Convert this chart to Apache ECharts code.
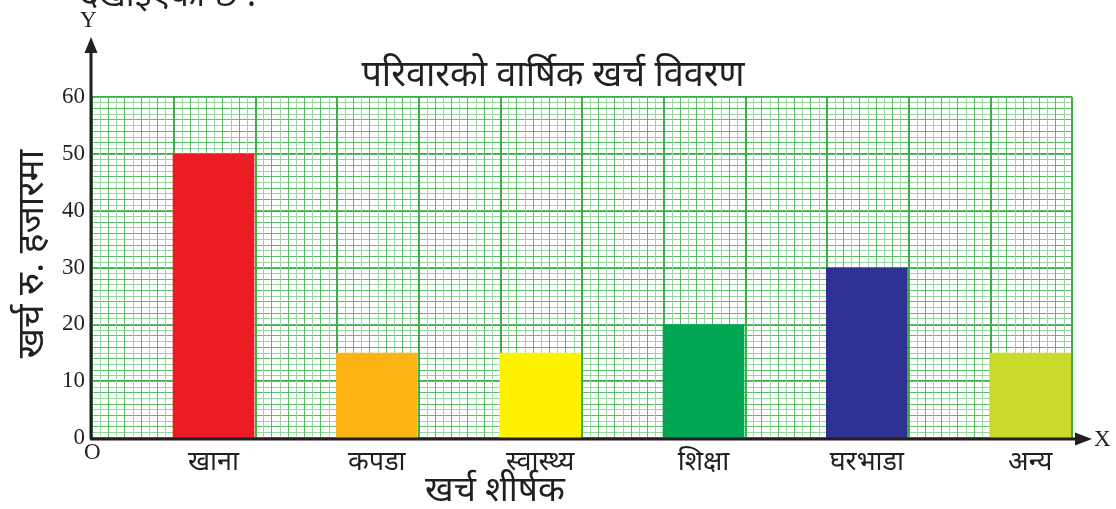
<!DOCTYPE html>
<html>
<head>
<meta charset="utf-8">
<script src="https://cdn.jsdelivr.net/npm/echarts@6/dist/echarts.min.js"></script>
<style>
  html, body { margin: 0; padding: 0; background: #ffffff; }
  #chart { width: 1116px; height: 509px; }
</style>
</head>
<body>
<div id="chart"></div>
<script>
// Annual household spending, in thousands of rupees
const categories = ['खाना', 'कपडा', 'स्वास्थ्य', 'शिक्षा', 'घरभाडा', 'अन्य'];
const spending = [50, 15, 15, 20, 30, 15];
const barColors = ['#ED1C24', '#FBB316', '#FFF200', '#00A651', '#2E3192', '#C9DA2B'];
const yTicks = [0, 10, 20, 30, 40, 50, 60];

const devaFont = '"Noto Sans Devanagari", "Lohit Devanagari", "Noto Sans", sans-serif';
const serifFont = '"Liberation Serif", "DejaVu Serif", serif';
const ink = '#231F20';

// graph-paper ruling colours
const rulingMajor = '#3DAE4A';
const rulingMid = '#5DBE68';
const rulingFine = '#98D7A1';

const chart = echarts.init(document.getElementById('chart'), null, { renderer: 'canvas' });

// plot frame shared by the graph-paper grid and the bars
const plotTop = 97, plotBottom = 71, plotLeft = 92, plotRight = 44;
const band = (1116 - plotLeft - plotRight) / categories.length;

const hidden = { axisLabel: { show: false }, axisTick: { show: false }, axisLine: { show: false } };

const option = {
  animation: false,
  backgroundColor: '#ffffff',
  title: {
    text: 'परिवारको वार्षिक खर्च विवरण',
    left: 548, top: 56, textAlign: 'center',
    textStyle: { fontFamily: devaFont, fontSize: 36, fontWeight: 'normal', color: ink }
  },
  grid: [
    { left: plotLeft, right: plotRight, top: plotTop, bottom: plotBottom },                           // graph paper
    { left: plotLeft + band / 4 - 1, right: plotRight - band / 4 + 1, top: plotTop, bottom: plotBottom } // bars
  ],
  xAxis: [
    { // fine vertical rulings, alternating darker and paler
      type: 'value', gridIndex: 0, min: 0, max: 60, interval: 1, ...hidden,
      splitLine: { show: true, lineStyle: { color: rulingMid, width: 1 } },
      minorTick: { show: false, splitNumber: 2 },
      minorSplitLine: { show: true, lineStyle: { color: rulingFine, width: 1 } }
    },
    { // major vertical rulings
      type: 'value', gridIndex: 0, min: 0, max: 12, interval: 1, ...hidden,
      splitLine: { show: true, lineStyle: { color: rulingMajor, width: 2 } }
    },
    { // categories, one per bar
      type: 'category', gridIndex: 1, data: categories,
      axisLine: { show: false }, axisTick: { show: false }, splitLine: { show: false },
      axisLabel: { margin: 13, fontFamily: devaFont, fontSize: 27, color: ink }
    }
  ],
  yAxis: [
    { // major horizontal rulings and tick labels
      type: 'value', gridIndex: 0, min: 0, max: 60, interval: 10,
      axisLine: { show: false }, axisTick: { show: false },
      axisLabel: {
        margin: 7, fontFamily: serifFont, fontSize: 23, color: ink,
        formatter: v => (yTicks.includes(v) ? String(v) : '')
      },
      splitLine: { show: true, lineStyle: { color: rulingMajor, width: 2 } }
    },
    { // fine horizontal rulings, alternating darker and paler
      type: 'value', gridIndex: 0, min: 0, max: 60, interval: 2, ...hidden,
      splitLine: { show: true, lineStyle: { color: rulingMid, width: 1 } },
      minorTick: { show: false, splitNumber: 2 },
      minorSplitLine: { show: true, lineStyle: { color: rulingFine, width: 1 } }
    },
    { // value scale for the bars
      type: 'value', gridIndex: 1, min: 0, max: 60, interval: 10, ...hidden,
      splitLine: { show: false }
    }
  ],
  series: [
    {
      type: 'bar', xAxisIndex: 2, yAxisIndex: 2,
      barWidth: '50%',
      data: spending.map((v, i) => ({ value: v, itemStyle: { color: barColors[i] } })),
      z: 5
    }
  ],
  graphic: [
    // y axis with arrow
    { type: 'line', z: 100, shape: { x1: 91, y1: 439, x2: 91, y2: 50 }, style: { stroke: ink, lineWidth: 3 } },
    { type: 'polygon', z: 100, shape: { points: [[91, 37], [84.5, 53], [97.5, 53]] }, style: { fill: ink } },
    // x axis with arrow
    { type: 'line', z: 100, shape: { x1: 90, y1: 439, x2: 1078, y2: 439 }, style: { stroke: ink, lineWidth: 3 } },
    { type: 'polygon', z: 100, shape: { points: [[1092, 439], [1075, 432.5], [1075, 445.5]] }, style: { fill: ink } },
    // axis letters
    { type: 'text', z: 100, left: 80, top: 9, style: { text: 'Y', fontFamily: serifFont, fontSize: 23, fill: ink } },
    { type: 'text', z: 100, left: 1094, top: 428, style: { text: 'X', fontFamily: serifFont, fontSize: 23, fill: ink } },
    { type: 'text', z: 100, left: 84, top: 441, style: { text: 'O', fontFamily: serifFont, fontSize: 23, fill: ink } },
    // axis names
    {
      type: 'text', z: 100, x: 495, y: 494,
      style: { text: 'खर्च शीर्षक', fontFamily: devaFont, fontSize: 35, fill: ink, align: 'center', verticalAlign: 'middle' }
    },
    {
      type: 'text', z: 100, x: 36, y: 254, rotation: Math.PI / 2,
      style: { text: 'खर्च रु. हजारमा', fontFamily: devaFont, fontSize: 37, fill: ink, align: 'center', verticalAlign: 'middle' }
    },
    // running text above the chart
    { type: 'text', z: 100, left: 80, top: -17, style: { text: 'देखाइएको छ :', fontFamily: devaFont, fontSize: 34, fill: ink } }
  ]
};

chart.setOption(option);
</script>
</body>
</html>
